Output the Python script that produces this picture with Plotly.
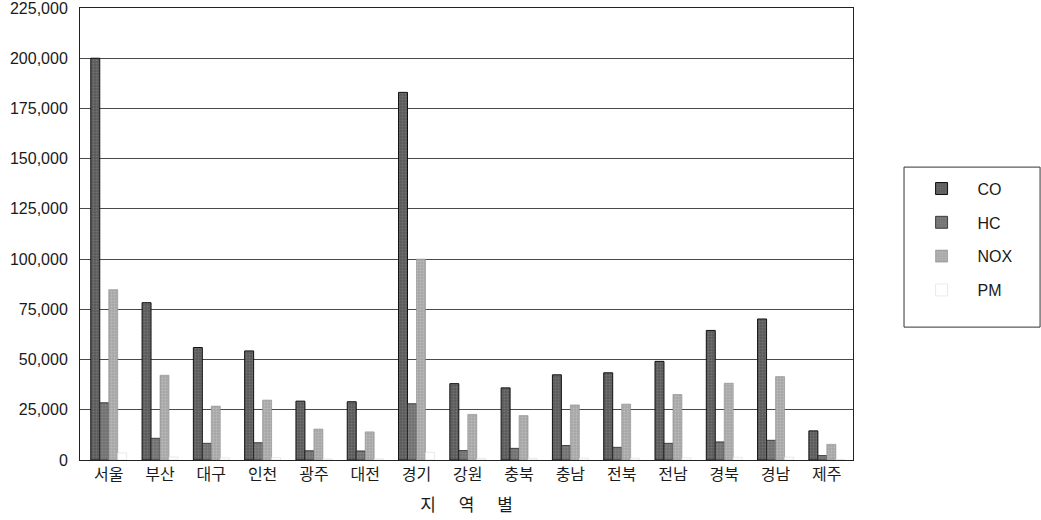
import plotly.graph_objects as go

# Regions and emissions (tons/year) per pollutant
regions = ["서울", "부산", "대구", "인천", "광주", "대전", "경기", "강원",
           "충북", "충남", "전북", "전남", "경북", "경남", "제주"]
co = [200000, 78300, 56000, 54300, 29300, 29000, 183000, 38000,
      35900, 42400, 43400, 49100, 64500, 70200, 14500]
hc = [28500, 10800, 8300, 8600, 4600, 4500, 28000, 4700,
      5800, 7200, 6300, 8300, 9000, 9800, 2200]
nox = [84800, 42200, 26800, 29800, 15400, 14000, 100000, 22700,
       22100, 27400, 27800, 32600, 38200, 41500, 7800]
pm = [3500, 1500, 1100, 1200, 600, 600, 3800, 700,
      800, 1000, 900, 1100, 1300, 1400, 300]

y_ticks = list(range(0, 225001, 25000))

series = [
    ("CO", co, "#5a5a5a", "#8a8a8a", "#111111", 1.0),
    ("HC", hc, "#707070", "#9c9c9c", "#222222", 0.8),
    ("NOX", nox, "#a6a6a6", "#d0d0d0", "#8a8a8a", 0.6),
    ("PM", pm, "#ffffff", "#ffffff", "#dcdcdc", 0.6),
]

fig = go.Figure()
for i, (name, vals, bg, fg, line, lw) in enumerate(series):
    fig.add_trace(go.Bar(
        name=name, x=regions, y=vals,
        legendgroup=f"g{i}",
        marker=dict(
            color=bg,
            line=dict(color=line, width=lw),
            pattern=dict(shape=".", bgcolor=bg, fgcolor=fg,
                         size=3, solidity=0.35),
        ),
    ))

base_font = "Liberation Sans, Arial, Noto Sans CJK KR, sans-serif"
kr_font = "Noto Sans CJK KR, Liberation Sans, sans-serif"

# Frame around the legend, drawn separately so its size is independent of the entries
fig.add_shape(
    type="rect", xref="paper", yref="paper",
    x0=1.066, x1=1.242, y0=0.294, y1=0.648,
    line=dict(color="#333333", width=1), fillcolor="rgba(0,0,0,0)",
)

fig.update_layout(
    width=1041, height=520,
    margin=dict(l=80, r=188, t=8, b=60, autoexpand=False),
    paper_bgcolor="white", plot_bgcolor="white",
    barmode="group", bargap=0.3, bargroupgap=0,
    font=dict(family=base_font, size=16, color="#1a1a1a"),
    showlegend=True,
    legend=dict(
        x=1.068, xanchor="left", y=0.638, yanchor="top",
        borderwidth=0, bgcolor="rgba(0,0,0,0)",
        font=dict(family=base_font, size=16, color="#1a1a1a"),
        tracegroupgap=10, itemwidth=62,
    ),
    xaxis=dict(
        type="category", range=[-0.56, 14.51], automargin=False,
        showgrid=False, ticks="",
        showline=True, linecolor="#222222", linewidth=1, mirror=True,
        tickfont=dict(family=kr_font, size=16, color="#1a1a1a"),
        title=dict(text="지      역      별", standoff=14,
                   font=dict(family=kr_font, size=17, color="#1a1a1a")),
    ),
    yaxis=dict(
        range=[0, 225000], tickvals=y_ticks, tickformat=",",
        automargin=False,
        showgrid=True, gridcolor="#4a4a4a", gridwidth=1,
        showline=True, linecolor="#222222", linewidth=1, mirror=True,
        ticks="", ticklabelstandoff=8, ticklabeloverflow="allow",
        tickfont=dict(family=base_font, size=16, color="#1a1a1a"),
        zeroline=False,
    ),
)

fig.write_html("out.html")
